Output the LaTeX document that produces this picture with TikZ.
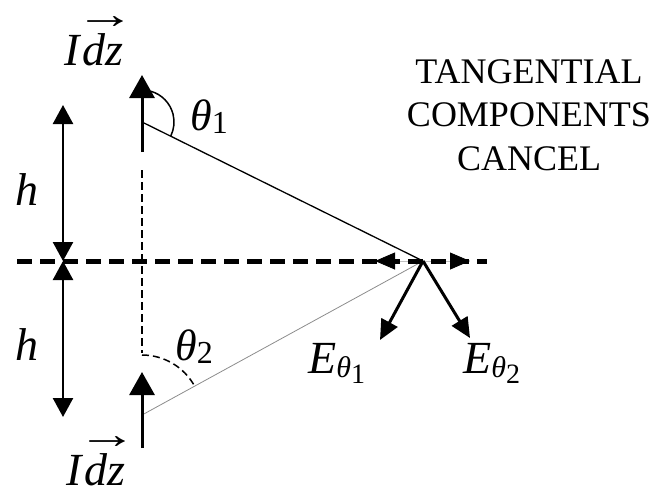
\documentclass[tikz,border=0pt]{standalone}
\usepackage{fontspec}
\usepackage{graphicx}
\setmainfont{Liberation Serif}
\usetikzlibrary{arrows.meta,positioning,calc}
\newcommand{\vecidz}{\textit{I}\rlap{\hspace{-0.14em}\raisebox{0.8em}{\fontsize{30}{30}\selectfont\scalebox{2}[1.4]{→}}}\textit{dz}}
\newcommand{\thetasub}[1]{\textit{θ}\raisebox{-3pt}{\fontsize{32}{32}\selectfont #1}}
\newcommand{\efield}[1]{\textit{E}\raisebox{-4pt}{\fontsize{30}{30}\selectfont\textit{θ}\raisebox{-6pt}{\fontsize{28}{28}\selectfont #1}}}

\begin{document}
\begin{tikzpicture}[
    x=1pt, y=-1pt,
    big/.style={font=\fontsize{46}{50}\selectfont, inner sep=0pt},
    angle/.style={font=\fontsize{44}{48}\selectfont, inner sep=0pt},
    caption/.style={font=\fontsize{36}{43.5}\selectfont, align=center, inner sep=0pt},
    current/.style={-{Triangle[length=23pt,width=25pt]}, line width=3pt},
    height/.style={{Triangle[length=19pt,width=20pt]}-{Triangle[length=19pt,width=20pt]}, line width=2.5pt},
    field/.style={-{Triangle[length=20pt,width=18pt]}, line width=3pt},
    tangent/.style={-{Triangle[length=20pt,width=17pt,color=black]}, line width=0.8pt, black!25},
    axis/.style={line width=5pt, dash pattern=on 15pt off 8pt},
    guide/.style={line width=2pt, dash pattern=on 8pt off 4pt},
    ray/.style={line width=1.3pt}
]
    \useasboundingbox (0,0) rectangle (652,488);

    % points
    \coordinate (top) at (142,122);
    \coordinate (topbase) at (142,152);
    \coordinate (toptip) at (142,75);
    \coordinate (bot) at (142,415);
    \coordinate (botbase) at (142,448);
    \coordinate (bottip) at (142,372);
    \coordinate (P) at (423,261);
    \coordinate (axisL) at (17,261);
    \coordinate (axisR) at (487,261);
    \coordinate (hT) at (63,105);
    \coordinate (hM) at (63,261);
    \coordinate (hB) at (63,417);
    \coordinate (guideT) at (142,170);
    \coordinate (guideB) at (142,353);
    \coordinate (tanL) at (375,261);
    \coordinate (tanR) at (470,261);
    \coordinate (E1) at (380,340);
    \coordinate (E2) at (470,338);

    % rays and guides
    \draw[ray] (top) -- (P);
    \draw[line width=0.8pt, black!45] (bot) -- (P);
    \draw[guide] (guideT) -- (guideB);
    \draw[tangent] (P) -- (tanL);
    \draw[tangent] (P) -- (tanR);
    \draw[axis] (axisL) -- (axisR);

    % dipoles
    \draw[current] (topbase) -- (toptip);
    \draw[current] (botbase) -- (bottip);

    % heights
    \draw[height] (hT) -- (hM);
    \draw[height] (hM) -- (hB);

    % angles
    \draw[line width=1.5pt] (top) ++(-74:32) arc[start angle=-74, end angle=26, radius=32];
    \draw[line width=1.5pt, dash pattern=on 7pt off 4pt] (bot) ++(-90:60) arc[start angle=-90, end angle=-29, radius=60];

    % fields
    \draw[field] (P) -- (E1);
    \draw[field] (P) -- (E2);

    % labels
    \node[big, anchor=base] (idztop) at (94,65) {\vecidz};
    \node[big, anchor=base] (idzbot) at (96,485) {\vecidz};
    \node[big] (h1) at (27,190) {\textit{h}};
    \node[big] (h2) at (27,345) {\textit{h}};
    \node[angle, anchor=base west] (th1) at (190,130) {\thetasub{1}};
    \node[angle, anchor=base west] (th2) at (175,360) {\thetasub{2}};
    \node[big, anchor=base west] (Et1) at (308,373) {\efield{1}};
    \node[big, anchor=base west] (Et2) at (463,373) {\efield{2}};
    \node[caption] (cancel) at (529,115) {TANGENTIAL\\COMPONENTS\\CANCEL};
\end{tikzpicture}
\end{document}
